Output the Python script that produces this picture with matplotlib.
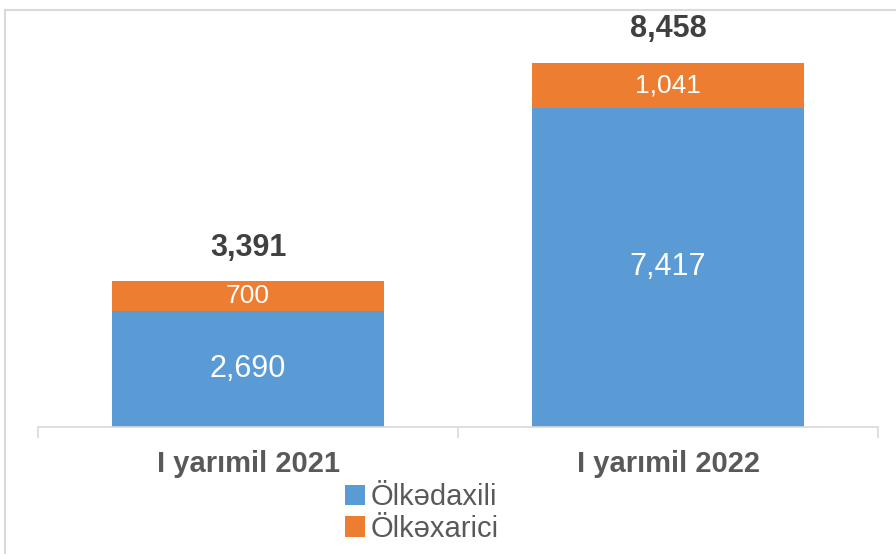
import matplotlib
matplotlib.use('Agg')
import matplotlib.pyplot as plt
import numpy as np

plt.rcParams['font.family'] = ['Liberation Sans', 'DejaVu Sans']

categories = ['I yarımil 2021', 'I yarımil 2022']
domestic = [2690, 7417]
foreign = [700, 1041]
domestic_labels = ['2,690', '7,417']
foreign_labels = ['700', '1,041']
total_labels = ['3,391', '8,458']
series_names = ['Ölkədaxili', 'Ölkəxarici']

blue = '#5B9BD5'
orange = '#ED7D31'
W, H = 896, 554

fig = plt.figure(figsize=(W / 100, H / 100), dpi=100)
# chart area frame
fig.patches.append(plt.Rectangle((5 / W, -0.1), 1.1, 1 - 10 / H + 0.1,
                                 transform=fig.transFigure, fill=False,
                                 edgecolor='#D9D9D9', lw=1.5))
ax = fig.add_axes([38 / W, 1 - 427 / H, 840 / W, 417 / H])

x = np.arange(len(categories))
bw = 0.648
ax.bar(x, domestic, bw, color=blue, label=series_names[0])
ax.bar(x, foreign, bw, bottom=domestic, color=orange, label=series_names[1])

for i in range(len(x)):
    ax.text(x[i], domestic[i] / 2, domestic_labels[i], ha='center', va='center',
            color='white', fontsize=22)
    ax.text(x[i], domestic[i] + foreign[i] / 2, foreign_labels[i], ha='center',
            va='center', color='white', fontsize=19)
    ax.annotate(total_labels[i], (x[i], domestic[i] + foreign[i]),
                xytext=(0, 24), textcoords='offset points', ha='center',
                va='center', fontsize=22, fontweight='bold', color='#404040')

ax.set_xlim(-0.5, 1.5)
ax.set_ylim(0, 9682)
for s in ['top', 'right', 'left']:
    ax.spines[s].set_visible(False)
ax.spines['bottom'].set_color('#D9D9D9')
ax.spines['bottom'].set_linewidth(1.2)
ax.set_yticks([])
ax.set_xticks([-0.5, 0.5, 1.5], minor=False)
ax.set_xticklabels([])
ax.tick_params(axis='x', length=8, color='#D9D9D9', width=1.2)
for i, c in enumerate(categories):
    ax.text(x[i], -0.088, c, transform=ax.get_xaxis_transform(), ha='center',
            va='center', fontsize=21, fontweight='bold', color='#595959')

fig.legend(loc='center', bbox_to_anchor=(422 / W, 1 - 513 / H), frameon=False,
           fontsize=21, labelcolor='#595959', handlelength=0.7, handleheight=0.7,
           handletextpad=0.2, labelspacing=0.12, borderpad=0)

fig.savefig('out.png', dpi=100)
